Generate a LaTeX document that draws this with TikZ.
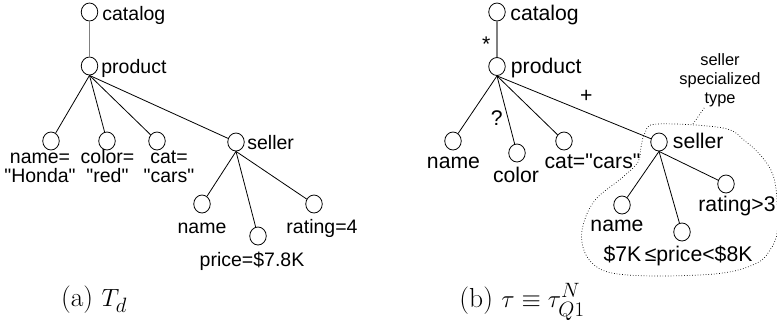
\documentclass[tikz,border=0pt]{standalone}
\usepackage{amsmath}
\usepackage{amssymb}
\usepackage{fontspec}
\newfontfamily\arialsans{Liberation Sans}
\usetikzlibrary{shapes.geometric}

\tikzset{
  vtx/.style={draw, ellipse, minimum width=16.5pt, minimum height=18pt, inner sep=0pt},
  txt/.style={font=\arialsans\fontsize{19.5}{19}\selectfont, inner sep=0pt},
  txtb/.style={font=\arialsans\fontsize{21.2}{20}\selectfont, inner sep=0pt},
  note/.style={font=\arialsans\fontsize{16.4}{19}\selectfont, inner sep=0pt, align=center},
  subcap/.style={font=\fontsize{27.5}{33}\selectfont, inner sep=0pt},
  rootedge/.style={draw=gray, line width=1.3pt}
}

\begin{document}
\begin{tikzpicture}[x=1pt, y=-1pt, line width=0.8pt]
\useasboundingbox (0,0) rectangle (777,325);

% (a) the document tree
\node [vtx] (catA) at (89.5,12) {};
\node [vtx] (prodA) at (89.5,66) {};
\node [vtx] (nameA) at (51,141) {};
\node [vtx] (colorA) at (107,141) {};
\node [vtx] (catgA) at (157,141) {};
\node [vtx] (sellA) at (236,142) {};
\node [vtx] (snameA) at (202,204) {};
\node [vtx] (spriceA) at (258,236) {};
\node [vtx] (srateA) at (314,204) {};
\node [txt, anchor=base west] (tcatA) at (102,20.5) {catalog};
\node [txt, anchor=base west] (tprodA) at (101,73) {product};
\node [txt, anchor=base west] (tsellA) at (247,149) {seller};
\node [txt, align=center, anchor=base] (tnameA) at (40,182.5) {name=\\"Honda"};
\node [txt, align=center, anchor=base] (tcolorA) at (107.5,182.5) {color=\\"red"};
\node [txt, align=center, anchor=base] (tcatgA) at (169,182.5) {cat=\\"cars"};
\node [txt, anchor=base] (tsnameA) at (202,233) {name};
\node [txt, anchor=base] (tspriceA) at (252,266) {price=\$7.8K};
\node [txt, anchor=base] (tsrateA) at (322,233) {rating=4};
\draw [rootedge] (catA) -- (prodA);
\draw (prodA.south) -- (nameA);
\draw (prodA.south) -- (colorA);
\draw (prodA.south) -- (catgA);
\draw (prodA.south) -- (sellA);
\draw (sellA.south) -- (snameA);
\draw (sellA.south) -- (spriceA);
\draw (sellA.south) -- (srateA);
\node [subcap, anchor=base] (capA) at (94,306.5) {(a) $T_d$};

% (b) the type tree
\node [vtx] (catB) at (497,12) {};
\node [vtx] (prodB) at (497,66.5) {};
\node [vtx] (nameB) at (453,141) {};
\node [vtx] (colorB) at (517,153) {};
\node [vtx] (catgB) at (564,141) {};
\node [vtx] (sellB) at (659,142) {};
\node [vtx] (snameB) at (622,205) {};
\node [vtx] (spriceB) at (682,232) {};
\node [vtx] (srateB) at (726,184) {};
\node [txtb, anchor=base west] (tcatB) at (510,20.7) {catalog};
\node [txtb, anchor=base west] (tprodB) at (510.5,73) {product};
\node [txtb, anchor=base west] (tsellB) at (672.5,148.5) {seller};
\node [txtb, anchor=base] (tnameB) at (453.5,168) {name};
\node [txtb, anchor=base] (tcolorB) at (516,182.5) {color};
\node [txtb, anchor=base] (tcatgB) at (592.5,168) {cat="cars"};
\node [txtb, anchor=base] (tsnameB) at (617,231) {name};
\node [txtb, anchor=base] (tspriceB) at (678,261) {\$7K\,≤price<\$8K};
\node [txtb, anchor=base] (tsrateB) at (737,211.5) {rating>3};
\draw [rootedge] (catB) -- node [txtb, pos=0.65, left=6pt] (star) {*} (prodB);
\draw (prodB.south) -- (nameB);
\draw (prodB.south) -- node [txtb, pos=0.62, left=5pt] (opt) {?} (colorB);
\draw (prodB.south) -- (catgB);
\draw (prodB.south) -- node [txtb, pos=0.58, above=9.5pt] (plus) {+} (sellB);
\draw (sellB.south) -- (snameB);
\draw (sellB.south) -- (spriceB);
\draw (sellB.south) -- (srateB);
\node [note, anchor=base] (spec) at (720,103) {seller\\specialized\\type};
\draw [dotted, line width=0.7pt] plot [smooth cycle, tension=0.6] coordinates {
  (657,124) (723,128) (745,141) (762,157) (773,175) (777,200) (777,233) (770,250)
  (757,263) (723,273) (660,276) (612,273) (591,262) (582,243) (584,222) (596,199)
  (623,177) (638,162) (641,147) (645,133)};
\coordinate (tail) at (693,124);
\draw [dotted, line width=0.7pt] (tail) -- ([xshift=-15pt]spec.south);
\node [subcap, anchor=base] (capB) at (522,307) {(b) $\tau \equiv \tau^N_{Q1}$};
\end{tikzpicture}
\end{document}
